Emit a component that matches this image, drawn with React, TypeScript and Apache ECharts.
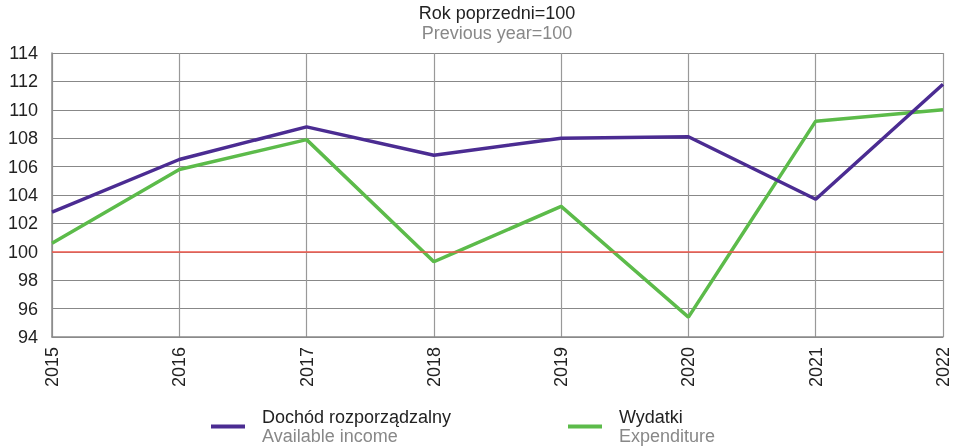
import React, { useEffect, useRef } from "react";
import * as echarts from "echarts";

const years = ["2015", "2016", "2017", "2018", "2019", "2020", "2021", "2022"];
const incomeValues = [102.8, 106.5, 108.8, 106.8, 108.0, 108.1, 103.7, 111.8];
const expenditureValues = [100.6, 105.8, 107.9, 99.3, 103.2, 95.4, 109.2, 110.0];
const incomeName = "Dochód rozporządzalny";
const incomeNameEn = "Available income";
const expName = "Wydatki";
const expNameEn = "Expenditure";
const baseline = 100;

const PURPLE = "#4b2c92";
const GREEN = "#5cbb4a";
const RED = "#f0584c";
const FONT = "Liberation Sans, Arial, sans-serif";

export default function App() {
  const ref = useRef<HTMLDivElement>(null);
  useEffect(() => {
    if (!ref.current) return;
    const chart = echarts.init(ref.current, undefined, { renderer: "svg" });
    const legendText = {
      fontFamily: FONT,
      padding: [0, 0, 0, 12],
      rich: {
        a: { fontSize: 18, color: "#222", lineHeight: 19, fontFamily: FONT },
        b: { fontSize: 18, color: "#888", lineHeight: 19, fontFamily: FONT },
      },
    };
    chart.setOption({
      animation: false,
      textStyle: { fontFamily: FONT },
      title: {
        text: "Rok poprzedni=100",
        subtext: "Previous year=100",
        left: 497,
        textAlign: "center",
        top: 4,
        padding: 0,
        itemGap: 2,
        textStyle: { fontSize: 18, fontWeight: "normal", color: "#222", lineHeight: 18 },
        subtextStyle: { fontSize: 18, color: "#888", lineHeight: 18 },
      },
      grid: { left: 52, right: 14, top: 53, bottom: 109, containLabel: false },
      legend: [
        {
          data: [incomeName],
          left: 211,
          top: 408,
          padding: 0,
          icon: "rect",
          itemWidth: 34,
          itemHeight: 4,
          textStyle: legendText,
          formatter: () => `{a|${incomeName}}\n{b|${incomeNameEn}}`,
          selectedMode: false,
        },
        {
          data: [expName],
          left: 568,
          top: 408,
          padding: 0,
          icon: "rect",
          itemWidth: 34,
          itemHeight: 4,
          textStyle: legendText,
          formatter: () => `{a|${expName}}\n{b|${expNameEn}}`,
          selectedMode: false,
        },
      ],
      xAxis: {
        type: "category",
        data: years,
        boundaryGap: false,
        axisLine: { lineStyle: { color: "#8a8a8a", width: 1.5 } },
        axisTick: { show: false },
        axisLabel: { rotate: 90, fontSize: 18, color: "#222", margin: 10 },
        splitLine: { show: true, lineStyle: { color: "#999", width: 1.2 } },
      },
      yAxis: {
        type: "value",
        min: 94,
        max: 114,
        interval: 2,
        axisLine: { show: true, lineStyle: { color: "#8a8a8a", width: 1.5 } },
        axisTick: { show: false },
        axisLabel: { fontSize: 18, color: "#222", margin: 14 },
        splitLine: { show: true, lineStyle: { color: "#888", width: 1.2 } },
      },
      series: [
        {
          name: incomeName,
          type: "line",
          data: incomeValues,
          symbol: "none",
          lineStyle: { color: PURPLE, width: 3.5 },
          itemStyle: { color: PURPLE },
          z: 4,
          markLine: {
            silent: true,
            symbol: "none",
            label: { show: false },
            lineStyle: { color: RED, width: 1.5, type: "solid" },
            data: [{ yAxis: baseline }],
          },
        },
        {
          name: expName,
          type: "line",
          data: expenditureValues,
          symbol: "none",
          lineStyle: { color: GREEN, width: 3.5 },
          itemStyle: { color: GREEN },
          z: 3,
        },
      ],
    });
    return () => chart.dispose();
  }, []);
  return <div ref={ref} style={{ position: "fixed", left: 0, top: 0, width: 957, height: 446 }} />;
}
